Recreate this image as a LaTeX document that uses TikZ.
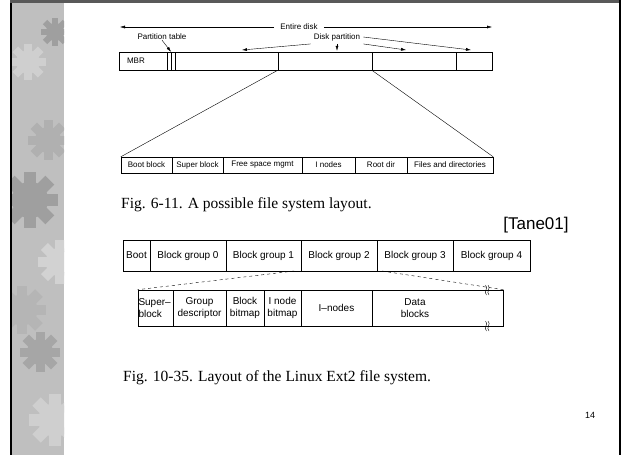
\documentclass[tikz,border=0pt]{standalone}
\usepackage{fontspec}
\setmainfont{Liberation Serif}
\setsansfont{Liberation Sans}
\usetikzlibrary{arrows.meta}

\tikzset{
  cell/.style={draw, thin, rectangle, inner sep=0pt, minimum height=16pt,
    font=\sffamily\fontsize{8}{9}\selectfont},
  bar/.style={draw, thin, rectangle, inner sep=0pt, minimum height=18pt,
    font=\sffamily\fontsize{8}{9}\selectfont},
  group/.style={draw, semithick, rectangle, inner sep=0pt, minimum height=31pt,
    align=center, font=\sffamily\fontsize{10}{12.5}\selectfont},
  tag/.style={inner sep=0pt, font=\sffamily\fontsize{8}{9}\selectfont},
  ptr/.style={-{Latex[length=5pt,width=3pt]}},
  caption/.style={anchor=west, inner sep=0pt, font=\fontsize{15.5}{18}\selectfont},
  gear/.pic={
    \fill[pic actions] (0,0) circle (13);
    \foreach \a in {0,45,...,315}
      \fill[pic actions, rotate=\a] (-4.5,9) rectangle (4.5,20);
  }
}

\begin{document}
\begin{tikzpicture}[x=1pt,y=-1pt]
\useasboundingbox (0,0) rectangle (621,455);
% slide frame and gear strip
\begin{scope}
\clip (12,0) rectangle (64,455);
\fill[gray!50] (12,0) rectangle (64,455);
\pic[fill=gray!75, scale=0.7] at (55,32) {gear};
\pic[fill=gray!38, scale=0.9] at (28,62) {gear};
\pic[fill=gray!62] at (48,140) {gear};
\pic[fill=gray!75, scale=1.4] at (30,200) {gear};
\pic[fill=gray!35, scale=1.1] at (60,262) {gear};
\pic[fill=gray!58, scale=1.2] at (22,310) {gear};
\pic[fill=gray!70] at (40,352) {gear};
\pic[fill=gray!38, scale=1.3] at (55,420) {gear};
\end{scope}
\fill[black] (10,0) rectangle (12,455);
\fill[gray!70!black] (10,0) rectangle (621,3);
\fill[black] (618.5,0) rectangle (620.5,455);

% Fig. 6-11: the whole disk
\node[tag, inner sep=6pt] (whole) at (299,27) {Entire disk};
\coordinate (dl) at (120,27);
\coordinate (dr) at (492,27);
\draw[ptr] (whole.west) -- (dl);
\draw[ptr] (whole.east) -- (dr);

\node[bar, minimum width=48pt, text width=32pt, align=left] (mbr) at (143,61) {MBR};
\node[bar, minimum width=8pt] (ptab) at (171,61) {};
\draw (ptab.north) -- (ptab.south);
\node[bar, minimum width=103pt] (part1) at (226.5,61) {};
\node[bar, minimum width=94pt] (part2) at (325,61) {};
\node[bar, minimum width=84pt] (part3) at (414,61) {};
\node[bar, minimum width=36pt] (part4) at (474,61) {};

\node[tag] (ptl) at (162,37) {Partition table};
\draw[ptr] (ptl.south) -- (ptab.north);
\node[tag, inner sep=3pt] (dpl) at (337,37) {Disk partition};
\coordinate (t1) at (242,50);
\coordinate (t3) at (406,50);
\coordinate (t4) at (471,50);
\draw[ptr] (dpl.south west) -- (t1);
\draw[ptr, shorten >=1pt] (dpl.south) -- (dpl.south |- part2.north);
\draw[ptr] (dpl.south east) -- (t3);
\draw[ptr] (dpl.east) -- (t4);

% one partition
\node[cell, minimum width=51pt] (bootb) at (146.5,165) {Boot block};
\node[cell, minimum width=51pt] (superb) at (197.5,165) {Super block};
\node[cell, minimum width=79pt] (freesp) at (262.5,165) {Free space mgmt};
\node[cell, minimum width=53pt] (inodes) at (328.5,165) {I nodes};
\node[cell, minimum width=52pt] (rootd) at (381,165) {Root dir};
\node[cell, minimum width=86pt] (files) at (450,165) {Files and directories};
\draw (part2.south west) -- (bootb.north west);
\draw (part3.south west) -- (files.north east);

\node[caption] (cap1) at (121,205) {Fig. 6-11. A possible file system layout.};
\node[inner sep=0pt, font=\sffamily\fontsize{17}{20}\selectfont] (src) at (536,225) {[Tane01]};

% Fig. 10-35: Ext2 layout
\node[group, minimum width=27pt] (boot) at (136.5,255.5) {Boot};
\node[group, minimum width=76pt] (bg0) at (188,255.5) {Block group 0};
\node[group, minimum width=75pt] (bg1) at (263.5,255.5) {Block group 1};
\node[group, minimum width=76pt] (bg2) at (339,255.5) {Block group 2};
\node[group, minimum width=76pt] (bg3) at (415,255.5) {Block group 3};
\node[group, minimum width=77pt] (bg4) at (491.5,255.5) {Block group 4};

\node[group, minimum height=36pt, minimum width=35pt, text width=34pt, align=left] (sblk) at (155.5,308) {Super--\\block};
\node[group, minimum height=36pt, minimum width=53pt] (gdesc) at (199.5,308) {Group\\descriptor};
\node[group, minimum height=36pt, minimum width=38pt] (bbmap) at (245,308) {Block\\bitmap};
\node[group, minimum height=36pt, minimum width=37pt] (ibmap) at (282.5,308) {I node\\bitmap};
\node[group, minimum height=36pt, minimum width=71pt] (inod) at (336.5,308) {I--nodes};
\node[group, minimum height=36pt, minimum width=131pt] (data) at (437.5,308) {};
\node[inner sep=0pt, align=center, font=\sffamily\fontsize{10}{12.5}\selectfont] (datatxt) at (415,308) {Data\\blocks};

\coordinate (cut1) at (294,271);
\coordinate (cut2) at (382,271);
\draw[dashed, thin] (cut1) -- (sblk.north west);
\draw[dashed, thin] (cut2) -- (data.north east);

% break marks
\foreach \y in {290,326}
  \foreach \dx in {0,2.5}
    \draw[thin] (485.5+\dx,\y-5) .. controls (489+\dx,\y-2) and (483+\dx,\y+2) .. (486.5+\dx,\y+5);

\node[caption] (cap2) at (123,378) {Fig. 10-35. Layout of the Linux Ext2 file system.};
\node[inner sep=0pt, font=\sffamily\fontsize{9}{10}\selectfont] (pg) at (590,415) {14};
\end{tikzpicture}
\end{document}
